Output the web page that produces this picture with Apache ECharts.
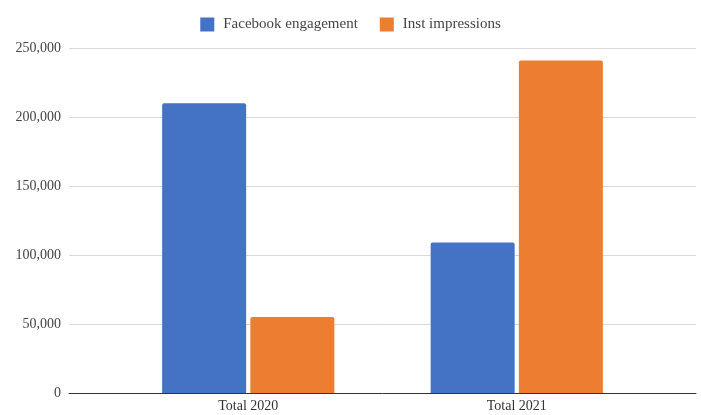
<!DOCTYPE html>
<html>
<head>
<meta charset="utf-8">
<script src="https://cdn.jsdelivr.net/npm/echarts@6/dist/echarts.min.js"></script>
<style>
html,body{margin:0;padding:0;background:#fff;}
#chart{width:701px;height:415px;}
</style>
</head>
<body>
<div id="chart"></div>
<script>
const categories = ['Total 2020', 'Total 2021'];
const facebookEngagement = [210000, 109000];
const instImpressions = [55000, 241000];
const seriesNames = ['Facebook engagement', 'Inst impressions'];
const yMin = 0, yMax = 250000, yStep = 50000;

const font = 'Liberation Serif';
const chart = echarts.init(document.getElementById('chart'));
chart.setOption({
  animation: false,
  backgroundColor: '#fff',
  legend: {
    top: 12,
    left: 'center',
    itemWidth: 14,
    itemHeight: 14,
    itemGap: 22,
    icon: 'rect',
    textStyle: { fontFamily: font, fontSize: 15, color: '#444', padding: [0, 0, 0, 4] },
    data: seriesNames
  },
  grid: [
    { left: 69, right: 5, top: 48, bottom: 22, containLabel: false },
    { left: 114, right: 50, top: 48, bottom: 22, containLabel: false }
  ],
  xAxis: [
    { gridIndex: 0, type: 'category', data: categories,
      axisLine: { lineStyle: { color: '#333', width: 1 } },
      axisTick: { show: false }, axisLabel: { show: false } },
    { gridIndex: 1, type: 'category', data: categories,
      axisLine: { show: false }, axisTick: { show: false },
      axisLabel: { fontFamily: font, fontSize: 14, color: '#333', margin: 6 } }
  ],
  yAxis: [
    { gridIndex: 0, type: 'value', min: yMin, max: yMax, interval: yStep,
      axisLine: { show: false }, axisTick: { show: false },
      splitLine: { lineStyle: { color: '#d9d9d9' } },
      axisLabel: { fontFamily: font, fontSize: 14, color: '#444', margin: 8,
        formatter: v => v.toLocaleString('en-US') } },
    { gridIndex: 1, type: 'value', min: yMin, max: yMax, interval: yStep, show: false,
      splitLine: { show: false } }
  ],
  series: [
    { name: seriesNames[0], type: 'bar', xAxisIndex: 1, yAxisIndex: 1,
      data: facebookEngagement, barWidth: 84, barGap: '5%',
      itemStyle: { color: '#4472c4', borderRadius: [2, 2, 0, 0] } },
    { name: seriesNames[1], type: 'bar', xAxisIndex: 1, yAxisIndex: 1,
      data: instImpressions, barWidth: 84, barGap: '5%',
      itemStyle: { color: '#ed7d31', borderRadius: [2, 2, 0, 0] } }
  ]
});
</script>
</body>
</html>
